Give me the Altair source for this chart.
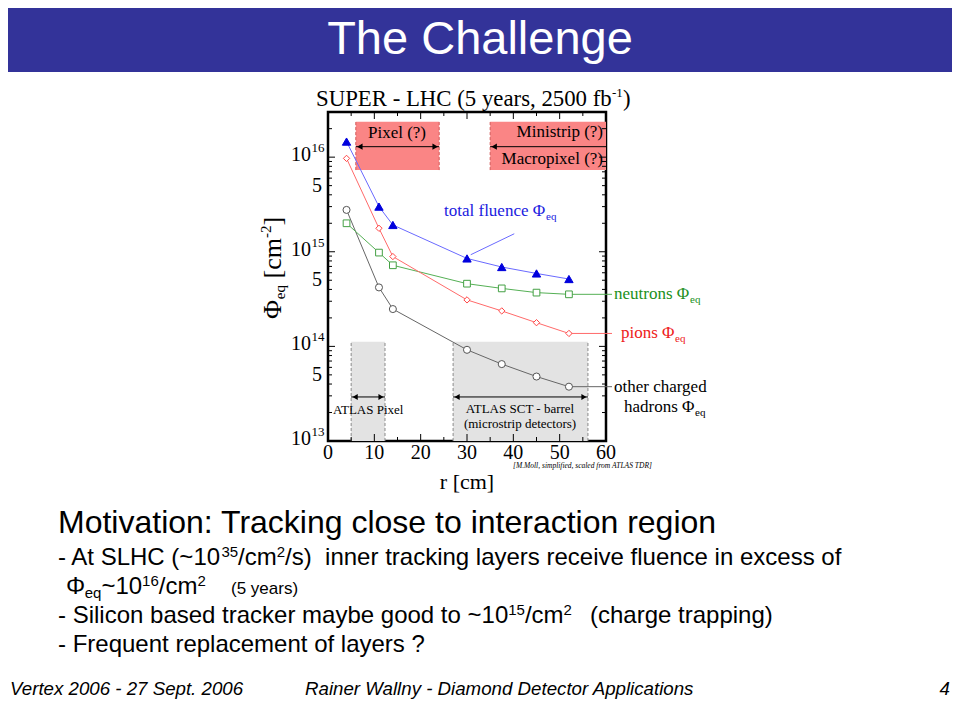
import altair as alt
import pandas as pd

# ---------------- values ----------------
radius_cm = [4, 11, 14, 30, 37.5, 45, 52]
total_fluence = [1.46e16, 3.0e15, 1.92e15, 8.5e14, 6.9e14, 5.9e14, 5.15e14]
neutrons = [2.0e15, 9.8e14, 7.2e14, 4.6e14, 4.1e14, 3.7e14, 3.55e14]
pions = [9.7e15, 1.77e15, 8.9e14, 3.1e14, 2.37e14, 1.78e14, 1.37e14]
other_charged = [2.77e15, 4.2e14, 2.48e14, 9.2e13, 6.5e13, 4.8e13, 3.75e13]

slhc_regions = ["Pixel (?)", "Ministrip (?)"]
slhc_r_start = [6, 35]
slhc_r_end = [24, 60]
slhc_phi_low = 7.3e15
slhc_phi_high = 2.37e16
slhc_arrow_phi = 1.29e16

atlas_regions = ["ATLAS Pixel", "ATLAS SCT - barrel"]
atlas_r_start = [5, 27]
atlas_r_end = [12.3, 56.1]
atlas_phi_high = 1.12e14
atlas_phi_low = 1.0e13
atlas_arrow_phi = 2.92e13

leader_r = [40.2, 30.8]
leader_phi = [1.55e15, 9.3e14]

x_ticks = [0, 10, 20, 30, 40, 50, 60]
x_minor_ticks = [5, 15, 25, 35, 45, 55]
y_decades = [1e13, 1e14, 1e15, 1e16]
y_decade_exp = ["13", "14", "15", "16"]
y_fives = [5e13, 5e14, 5e15]
y_minor_mult = [2, 3, 4, 5, 6, 7, 8, 9]

# ---------------- layout ----------------
W, H = 278, 329          # plot frame
OX, OY = 328, 112        # page position of plot origin
SERIF = "Liberation Serif"
SANS = "Liberation Sans"

xs = alt.Scale(domain=[0, 60], nice=False, zero=False)
ys = alt.Scale(type="log", domain=[1e13, 3e16], nice=False)


def X(f):
    return alt.X(f, type="quantitative", scale=xs, axis=None)


def Y(f):
    return alt.Y(f, type="quantitative", scale=ys, axis=None)


blank = alt.Data(values=[{}])


def txt(s, px, py, size, font=SERIF, color="black", align="left",
        baseline="alphabetic", style="normal", angle=0):
    return alt.Chart(blank).mark_text(
        text=s, fontSize=size, font=font, color=color, align=align,
        baseline=baseline, fontStyle=style, angle=angle
    ).encode(x=alt.value(px - OX), y=alt.value(py - OY))


layers = []

# header bar
layers.append(alt.Chart(blank).mark_rect(color="#333399").encode(
    x=alt.value(-OX), x2=alt.value(960 - OX),
    y=alt.value(-OY), y2=alt.value(72 - OY)))
layers.append(txt("The Challenge", 480, 54, 47, font=SANS, color="white", align="center"))

# SLHC regions (pink)
slhc = pd.DataFrame({"name": slhc_regions, "r0": slhc_r_start, "r1": slhc_r_end,
                     "lo": [slhc_phi_low] * 2, "hi": [slhc_phi_high] * 2,
                     "arrow": [slhc_arrow_phi] * 2})
layers.append(alt.Chart(slhc).mark_rect(color="#fa8585").encode(
    x=X("r0"), x2="r1", y=Y("lo"), y2="hi"))
slhc_edges = pd.DataFrame({"r": slhc_r_start + [slhc_r_end[0]],
                           "lo": [slhc_phi_low] * 3, "hi": [slhc_phi_high] * 3})
layers.append(alt.Chart(slhc_edges).mark_rule(color="#d45a5a", strokeDash=[3, 2], strokeWidth=1).encode(
    x=X("r"), y=Y("lo"), y2="hi"))
layers.append(alt.Chart(slhc).mark_rule(color="black", strokeWidth=1).encode(
    x=X("r0"), x2="r1", y=Y("arrow")))
heads_l = pd.DataFrame({"r": slhc_r_start, "phi": [slhc_arrow_phi] * 2})
heads_r = pd.DataFrame({"r": [slhc_r_end[0]], "phi": [slhc_arrow_phi]})
layers.append(alt.Chart(heads_l).mark_point(shape="triangle-left", filled=True, color="black",
                                            size=40, xOffset=4, opacity=1).encode(x=X("r"), y=Y("phi")))
layers.append(alt.Chart(heads_r).mark_point(shape="triangle-right", filled=True, color="black",
                                            size=40, xOffset=-4, opacity=1).encode(x=X("r"), y=Y("phi")))

# ATLAS regions (grey)
atlas = pd.DataFrame({"name": atlas_regions, "r0": atlas_r_start, "r1": atlas_r_end,
                      "lo": [atlas_phi_low] * 2, "hi": [atlas_phi_high] * 2,
                      "arrow": [atlas_arrow_phi] * 2})
layers.append(alt.Chart(atlas).mark_rect(color="#e3e3e3").encode(
    x=X("r0"), x2="r1", y=Y("lo"), y2="hi"))
atlas_edges = pd.DataFrame({"r": atlas_r_start + atlas_r_end,
                            "lo": [atlas_phi_low] * 4, "hi": [atlas_phi_high] * 4})
layers.append(alt.Chart(atlas_edges).mark_rule(color="#8a8a8a", strokeDash=[3, 2], strokeWidth=1).encode(
    x=X("r"), y=Y("lo"), y2="hi"))
layers.append(alt.Chart(atlas).mark_rule(color="black", strokeWidth=1).encode(
    x=X("r0"), x2="r1", y=Y("arrow")))
a_l = pd.DataFrame({"r": atlas_r_start, "phi": [atlas_arrow_phi] * 2})
a_r = pd.DataFrame({"r": atlas_r_end, "phi": [atlas_arrow_phi] * 2})
layers.append(alt.Chart(a_l).mark_point(shape="triangle-left", filled=True, color="black",
                                        size=35, xOffset=4, opacity=1).encode(x=X("r"), y=Y("phi")))
layers.append(alt.Chart(a_r).mark_point(shape="triangle-right", filled=True, color="black",
                                        size=35, xOffset=-4, opacity=1).encode(x=X("r"), y=Y("phi")))

# series
def series(vals, line_color, shape, stroke, fill, size, extend):
    df = pd.DataFrame({"r": radius_cm, "phi": vals})
    base = alt.Chart(df).encode(x=X("r"), y=Y("phi"))
    out = [base.mark_line(color=line_color, strokeWidth=1)]
    if extend:
        last = pd.DataFrame({"r": [radius_cm[-1]], "phi": [vals[-1]]})
        out.append(alt.Chart(last).mark_rule(color=line_color, strokeWidth=1).encode(
            x=X("r"), x2=alt.value(612 - OX), y=Y("phi")))
    out.append(base.mark_point(shape=shape, filled=True, fill=fill, stroke=stroke,
                               strokeWidth=1, size=size, opacity=1))
    return out


layers += series(other_charged, "#666666", "circle", "#555555", "white", 50, True)
layers += series(neutrons, "#55b055", "square", "#44a044", "white", 45, True)
layers += series(pions, "#ff6a6a", "diamond", "#ff4545", "white", 40, True)
layers += series(total_fluence, "#6a6aff", "triangle-up", "#0000dd", "#0000dd", 70, False)

leader = pd.DataFrame({"r0": [leader_r[0]], "r1": [leader_r[1]],
                       "p0": [leader_phi[0]], "p1": [leader_phi[1]]})
layers.append(alt.Chart(leader).mark_rule(color="#6a6aff", strokeWidth=1).encode(
    x=X("r0"), x2="r1", y=Y("p0"), y2="p1"))

# ticks (inside the frame)
yt_major = pd.DataFrame({"v": y_decades})
yt_minor = pd.DataFrame({"v": [m * d for d in y_decades for m in y_minor_mult if m * d <= 3e16]})
for df, L in ((yt_major, 7), (yt_minor, 4)):
    layers.append(alt.Chart(df).mark_rule(color="black", strokeWidth=1).encode(
        y=Y("v"), x=alt.value(0), x2=alt.value(L)))
    layers.append(alt.Chart(df).mark_rule(color="black", strokeWidth=1).encode(
        y=Y("v"), x=alt.value(W - L), x2=alt.value(W)))
xt_major = pd.DataFrame({"v": x_ticks})
xt_minor = pd.DataFrame({"v": x_minor_ticks})
for df, L in ((xt_major, 7), (xt_minor, 4)):
    layers.append(alt.Chart(df).mark_rule(color="black", strokeWidth=1).encode(
        x=X("v"), y=alt.value(0), y2=alt.value(L)))
    layers.append(alt.Chart(df).mark_rule(color="black", strokeWidth=1).encode(
        x=X("v"), y=alt.value(H - L), y2=alt.value(H)))

# tick labels
layers.append(alt.Chart(xt_major).mark_text(font=SERIF, fontSize=20, align="center",
                                            baseline="alphabetic").encode(
    x=X("v"), y=alt.value(459 - OY), text=alt.Text("v:Q", format="d")))
dec = pd.DataFrame({"v": y_decades, "e": y_decade_exp})
layers.append(alt.Chart(dec).mark_text(font=SERIF, fontSize=20, align="right",
                                       baseline="alphabetic", dy=4).encode(
    y=Y("v"), x=alt.value(311 - OX), text=alt.value("10")))
layers.append(alt.Chart(dec).mark_text(font=SERIF, fontSize=13, align="left",
                                       baseline="alphabetic", dy=-5).encode(
    y=Y("v"), x=alt.value(311.5 - OX), text="e:N"))
fives = pd.DataFrame({"v": y_fives})
layers.append(alt.Chart(fives).mark_text(font=SERIF, fontSize=20, align="right",
                                         baseline="alphabetic", dy=6).encode(
    y=Y("v"), x=alt.value(322 - OX), text=alt.value("5")))

# plot texts
layers += [
    txt("SUPER - LHC (5 years, 2500 fb", 316, 106, 22.8),
    txt("-1", 612, 97, 13),
    txt(")", 623, 106, 22.8),
    txt("r [cm]", 467, 489, 22, align="center"),
    txt("[M.Moll, simplified, scaled from ATLAS TDR]", 513, 468, 7.5, style="italic"),
    txt("Φ", 281, 319, 26, angle=270),
    txt("eq", 285, 299.2, 15, angle=270),
    txt("[cm", 281, 278.5, 26, angle=270),
    txt("-2", 271, 238.1, 15, angle=270),
    txt("]", 281, 225.6, 26, angle=270),
    txt("total fluence Φ", 444, 216, 17, color="#2020e0"),
    txt("eq", 546, 220, 11, color="#2020e0"),
    txt("Pixel (?)", 397, 138, 17, align="center"),
    txt("Ministrip (?)", 603, 137, 17, align="right"),
    txt("Macropixel (?)", 603, 164, 17, align="right"),
    txt("ATLAS Pixel", 333, 414, 13),
    txt("ATLAS SCT - barrel", 520, 413, 13, align="center"),
    txt("(microstrip detectors)", 520, 428, 13, align="center"),
    txt("neutrons Φ", 614, 299, 17, color="#209020"),
    txt("eq", 690, 303, 11, color="#209020"),
    txt("pions Φ", 621, 338, 17, color="#ee2020"),
    txt("eq", 675, 342, 11, color="#ee2020"),
    txt("other charged", 614, 392, 17),
    txt("hadrons Φ", 624, 412, 17),
    txt("eq", 695, 416, 11),
]

# slide texts
layers += [
    txt("Motivation: Tracking close to interaction region", 58, 533, 32, font=SANS),
    txt("- At SLHC (~10", 58, 565, 24, font=SANS),
    txt("35", 221.4, 557, 15, font=SANS),
    txt("/cm", 238.1, 565, 24, font=SANS),
    txt("2", 276.8, 557, 15, font=SANS),
    txt("/s) \u00a0inner tracking layers receive fluence in excess of", 285.1, 565, 24, font=SANS),
    txt("Φ", 66, 594, 24, font=SANS),
    txt("eq", 84.7, 598, 15, font=SANS),
    txt("~10", 101.4, 594, 24, font=SANS),
    txt("16", 142.1, 586, 15, font=SANS),
    txt("/cm", 158.8, 594, 24, font=SANS),
    txt("2", 197.5, 586, 15, font=SANS),
    txt("(5 years)", 231, 594, 17, font=SANS),
    txt("- Silicon based tracker maybe good to ~10", 58, 623, 24, font=SANS),
    txt("15", 508.2, 615, 15, font=SANS),
    txt("/cm", 524.9, 623, 24, font=SANS),
    txt("2", 563.6, 615, 15, font=SANS),
    txt("(charge trapping)", 590, 623, 24, font=SANS),
    txt("- Frequent replacement of layers ?", 58, 652, 24, font=SANS),
    txt("Vertex 2006 - 27 Sept. 2006", 10, 695, 18.7, font=SANS, style="italic"),
    txt("Rainer Wallny - Diamond Detector Applications", 305, 695, 18.7, font=SANS, style="italic"),
    txt("4", 950, 695, 18.7, font=SANS, style="italic", align="right"),
]

chart = alt.layer(*layers).properties(
    width=W, height=H,
    autosize=alt.AutoSizeParams(type="none"),
    padding={"left": OX - 8, "top": OY - 8, "right": 944 - (OX - 8) - W, "bottom": 704 - (OY - 8) - H},
).configure_view(stroke="black", strokeWidth=2.5)

chart.save("out.html", embed_options={"renderer": "svg", "actions": False})
